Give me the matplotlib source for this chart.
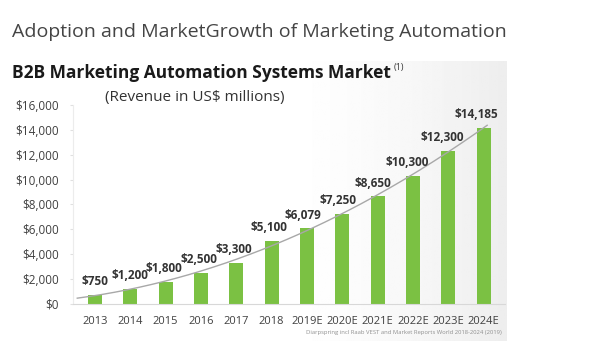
import numpy as np
import matplotlib
matplotlib.use('Agg')
import matplotlib.pyplot as plt

anos = ['2013', '2014', '2015', '2016', '2017', '2018', '2019E',
        '2020E', '2021E', '2022E', '2023E', '2024E']
receita = [750, 1200, 1800, 2500, 3300, 5100, 6079, 7250, 8650, 10300, 12300, 14185]
rotulos = ['$750', '$1,200', '$1,800', '$2,500', '$3,300', '$5,100', '$6,079',
           '$7,250', '$8,650', '$10,300', '$12,300', '$14,185']
ticks_y = [0, 2000, 4000, 6000, 8000, 10000, 12000, 14000, 16000]

plt.rcParams['font.family'] = ['Open Sans', 'DejaVu Sans']

fig = plt.figure(figsize=(6.01, 3.57), dpi=100)

# fundo cinza claro do slide
bg = fig.add_axes([0, 0.045, 0.842, 0.785])
grad = np.linspace(0, 1, 300)
grad = np.clip((grad - 0.55) / 0.45, 0, 1) ** 1.5
img = 1 - 0.07 * grad
bg.imshow(np.tile(img, (10, 1)), cmap='gray', vmin=0, vmax=1, aspect='auto',
          extent=[0, 1, 0, 1])
bg.axis('off')

ax = fig.add_axes([0.1215, 0.1485, 0.7185, 0.5575])
ax.patch.set_alpha(0)
x = np.arange(len(anos))

ax.bar(x, receita, width=0.4, color='#7bc143', zorder=2)

# linha de tendencia
coef = np.polyfit(x, receita, 2)
xs = np.linspace(-0.5, 11.1, 200)
ax.plot(xs, np.polyval(coef, xs), color='#a8a8a8', lw=1, zorder=3)

for i, (v, r) in enumerate(zip(receita, rotulos)):
    ax.annotate(r, (x[i], v), xytext=(-0.45 * i, 9.5), textcoords='offset points',
                ha='center', va='center', fontsize=8.5, fontweight='bold',
                color='#333333', annotation_clip=False, zorder=4)

ax.set_xlim(-0.62, 11.6)
ax.set_ylim(0, 16000)
ax.set_xticks(x)
ax.set_xticklabels(anos, fontsize=8, color='#404040')
ax.set_yticks(ticks_y)
ax.set_yticklabels(['${:,}'.format(t) for t in ticks_y], fontsize=8.5, color='#404040')
ax.tick_params(axis='x', length=0, pad=9)
ax.tick_params(axis='y', length=2, color='#e0e0e0', pad=8)
for lado in ['top', 'right']:
    ax.spines[lado].set_visible(False)
ax.spines['left'].set_color('#ececec')
ax.spines['bottom'].set_color('#d8d8d8')

fig.text(0.02, 0.91, 'Adoption and MarketGrowth of Marketing Automation',
         fontsize=14, color='#444444', va='center')
fig.text(0.02, 0.795, 'B2B Marketing Automation Systems Market', fontsize=12.5,
         fontweight='bold', color='#1a1a1a', va='center')
fig.text(0.655, 0.81, '(1)', fontsize=6.5, color='#333333', va='center')
fig.text(0.175, 0.728, '(Revenue in US$ millions)', fontsize=11, color='#333333',
         va='center')
fig.text(0.835, 0.068,
         'Diarpspring incl Raab VEST and Market Reports World 2018-2024 (2019)',
         fontsize=4.2, color='#909090', ha='right', va='center')

fig.savefig('out.png', dpi=100)
